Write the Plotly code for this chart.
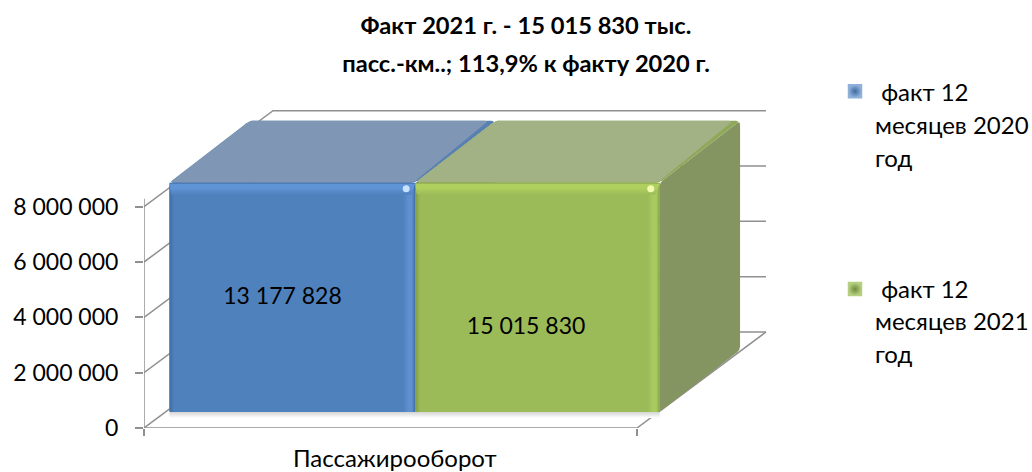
import plotly.graph_objects as go

TITLE_LINES = ["Факт 2021 г. - 15 015 830 тыс.", "пасс.-км..; 113,9% к факту 2020 г."]
CATEGORY = "Пассажирооборот"
SERIES_FIRST = ["\u00a0факт 12", "\u00a0факт 12"]
SERIES_REST = [["месяцев 2020", "год"], ["месяцев 2021", "год"]]
VALUES = [13177828, 15015830]
VALUE_TEXT = ["13 177 828", "15 015 830"]
TICK_VALUES = [0, 2000000, 4000000, 6000000, 8000000]
TICK_TEXT = ["0", "2 000 000", "4 000 000", "6 000 000", "8 000 000"]
AXIS_MAX = 8290000

FONT = "Lato"
PX_X = 1 / 493.0
PX_Y = 1e6 / 27.66
DX = 129 * PX_X
DY = 96 * PX_Y
D_FRONT = 16 / 96
D_BACK = 78 / 96
EDGES = [0.008, 0.5065, 1.0025]
GRID = "#909090"

BLUE = dict(base="#4F81BD", top="#7F97B5", side="#5880B0", left="#3F6EA6", hi="#5F90D0", edge="#3F6BA0",
            tophi="#5F94D6", spec="#C8E2FF", bevel="#5880B0", sw_out="#8FB0DA", sw_in="#3E6AA0")
GREEN = dict(base="#9BBB59", top="#A3B284", side="#859562", left="#7F9B45", hi="#A8CB60", edge="#84A046",
             tophi="#AFD05E", spec="#F2FAB0", bevel="#90A85A", sw_out="#B5CF80", sw_in="#6F8A3A")


def proj(x, v, d):
    return x + d * DX, v + d * DY


def rounded(points, r):
    """Round polygon corners; r is in screen pixels."""
    pts = [(x / PX_X, v / PX_Y) for x, v in points]
    out = []
    n = len(pts)
    for i in range(n):
        p, c, q = pts[i - 1], pts[i], pts[(i + 1) % n]
        def toward(a, b):
            L = ((b[0] - a[0]) ** 2 + (b[1] - a[1]) ** 2) ** 0.5
            t = min(r, L / 2) / L
            return a[0] + (b[0] - a[0]) * t, a[1] + (b[1] - a[1]) * t
        a, b = toward(c, p), toward(c, q)
        for k in range(6):
            t = k / 5
            out.append(((1 - t) ** 2 * a[0] + 2 * t * (1 - t) * c[0] + t * t * b[0],
                        (1 - t) ** 2 * a[1] + 2 * t * (1 - t) * c[1] + t * t * b[1]))
    xs = [x * PX_X for x, _ in out] + [out[0][0] * PX_X]
    ys = [y * PX_Y for _, y in out] + [out[0][1] * PX_Y]
    return xs, ys


fig = go.Figure()


def line(xs, ys, color=GRID, width=1.5):
    fig.add_trace(go.Scatter(x=xs, y=ys, mode="lines", line=dict(color=color, width=width),
                             hoverinfo="skip", showlegend=False, cliponaxis=False))


def poly(xs, ys, color=None, grad=None):
    kw = dict(fillcolor=color) if grad is None else dict(fillgradient=grad)
    fig.add_trace(go.Scatter(x=xs, y=ys, mode="lines", fill="toself", line=dict(width=0),
                             hoverinfo="skip", showlegend=False, cliponaxis=False, **kw))


def grad(kind, start, stop, stops):
    return dict(type=kind, start=start, stop=stop, colorscale=stops)


# walls and floor
for v in TICK_VALUES:
    x1, y1 = proj(0, v, 1)
    x2, y2 = proj(1, v, 1)
    line([0, x1, x2], [v, y1, y2])
line([0, 1, proj(1, 0, 1)[0]], [0, 0, proj(1, 0, 1)[1]])
line([0, 0], [-6 * PX_Y, AXIS_MAX])

# shadow
sx0, sy = proj(EDGES[0], 0, D_FRONT)
sx1, _ = proj(EDGES[2], 0, D_FRONT)
poly([sx0, sx1, sx1, sx0, sx0], [sy, sy, sy - 6 * PX_Y, sy - 6 * PX_Y, sy],
     grad=grad("vertical", sy - 6 * PX_Y, sy, [[0, "#FFFFFF"], [1, "#D4D4D4"]]))

# bars
for i, (value, c) in enumerate(zip(VALUES, [BLUE, GREEN])):
    h = min(value, AXIS_MAX)
    l, r = EDGES[i], EDGES[i + 1]
    fl, _ = proj(l, 0, D_FRONT)
    fr, fb = proj(r, 0, D_FRONT)
    ft = fb + h
    bl, _ = proj(l, 0, D_BACK)
    brr, bb = proj(r, 0, D_BACK)
    bl -= 3 * PX_X
    brr -= 3 * PX_X
    bt = bb + h

    poly(*rounded([(fr, ft), (brr, bt), (brr, bb), (fr, fb)], 4), color=c["side"])
    poly(*rounded([(fl, ft), (bl, bt), (brr, bt), (fr, ft)], 4), color=c["bevel"])
    inset = 7 * PX_X
    poly(*rounded([(fl, ft), (bl, bt), (brr - inset, bt), (fr - inset * 0.3, ft)], 4), color=c["top"])

    # front face with bevels
    poly(*rounded([(fl, ft), (fr, ft), (fr, fb), (fl, fb)], 3), color=c["base"])
    bw = 5 * PX_X
    poly([fl, fl + bw, fl + bw, fl, fl], [fb, fb, ft, ft, fb],
         grad=grad("horizontal", fl, fl + bw, [[0, c["left"]], [1, c["base"]]]))
    rw = 12 * PX_X
    poly([fr - rw, fr, fr, fr - rw, fr - rw], [fb, fb, ft, ft, fb],
         grad=grad("horizontal", fr - rw, fr,
                   [[0, c["base"]], [0.45, c["hi"]], [0.72, c["hi"]], [1, c["edge"]]]))
    th = 12 * PX_Y
    poly(*rounded([(fl, ft), (fr, ft), (fr - rw * 0.3, ft - th), (fl + bw * 0.3, ft - th)], 2),
         grad=grad("vertical", ft - th, ft, [[0, c["base"]], [0.55, c["tophi"]], [0.85, c["tophi"]], [1, c["edge"]]]))
    fig.add_trace(go.Scatter(x=[fr - 9 * PX_X], y=[ft - 6 * PX_Y], mode="markers",
                             marker=dict(size=7, color=c["spec"], line=dict(width=0)),
                             hoverinfo="skip", showlegend=False, cliponaxis=False))

# data labels
LABEL_X = [0.281, 0.775]
LABEL_Y = [4700000, 3620000]
fig.add_trace(go.Scatter(x=LABEL_X, y=LABEL_Y, mode="text", text=VALUE_TEXT,
                         textfont=dict(family=FONT, size=23, color="#000000"),
                         hoverinfo="skip", showlegend=False, cliponaxis=False))


def lines_at(lines, size):
    """Draw each line at `size` inside a larger outer font, which sets the line spacing."""
    return "<br>".join(f'<span style="font-size:{size}px">{t}</span>' for t in lines)


# legend entries
for first, c, leg in zip(SERIES_FIRST, [BLUE, GREEN], ["legend", "legend2"]):
    fig.add_trace(go.Scatter(x=[None], y=[None], mode="markers", name=first, legend=leg,
                             marker=dict(symbol="square", size=13, color=c["sw_out"],
                                         gradient=dict(type="radial", color=c["sw_in"]),
                                         line=dict(color=c["sw_out"], width=1.5))))

leg_common = dict(font=dict(family=FONT, size=24, color="#000000"), xanchor="left", yanchor="top",
                  bgcolor="rgba(0,0,0,0)", borderwidth=0, itemwidth=30, indentation=-10)

LEGEND_REST_Y = [0.875, 0.2774]
annotations = [dict(text=CATEGORY, x=0.5085, xref="x", y=0, yref="paper", yanchor="top", yshift=-13,
                    showarrow=False, font=dict(family=FONT, size=24, color="#000000"))]
for rest, y in zip(SERIES_REST, LEGEND_REST_Y):
    annotations.append(dict(text=lines_at(rest, 24), x=1.1463, xref="paper", y=y, yref="paper",
                            xanchor="left", yanchor="middle", align="left", showarrow=False,
                            font=dict(family=FONT, size=25.4, color="#000000")))

fig.update_layout(
    width=1032, height=472, autosize=False,
    margin=dict(l=144, r=252, t=100, b=44, pad=0),
    paper_bgcolor="#FFFFFF", plot_bgcolor="rgba(0,0,0,0)",
    font=dict(family=FONT, color="#000000"),
    title=dict(text="<b>" + lines_at(TITLE_LINES, 23.7) + "</b>", x=526 / 1032, xanchor="center", y=0.928,
               yanchor="top", font=dict(family=FONT, size=29, color="#000000")),
    xaxis=dict(range=[0, 636 * PX_X], tickvals=[0, 1], ticktext=["", ""], ticks="outside", ticklen=7,
               tickcolor=GRID, tickwidth=1.5, showgrid=False, zeroline=False, showline=False),
    yaxis=dict(range=[0, 328 * PX_Y], tickvals=TICK_VALUES, ticktext=TICK_TEXT, ticks="outside", ticklen=8,
               tickcolor=GRID, tickwidth=1.5, showgrid=False, zeroline=False, showline=False,
               ticklabelstandoff=12, tickfont=dict(family=FONT, size=23, color="#000000")),
    legend=dict(x=1.1022, y=1.094, **leg_common),
    legend2=dict(x=1.1022, y=0.4909, **leg_common),
    annotations=annotations,
    showlegend=True,
)

fig.write_html("out.html", config=dict(displayModeBar=False), post_script="document.body.style.margin='0';")
